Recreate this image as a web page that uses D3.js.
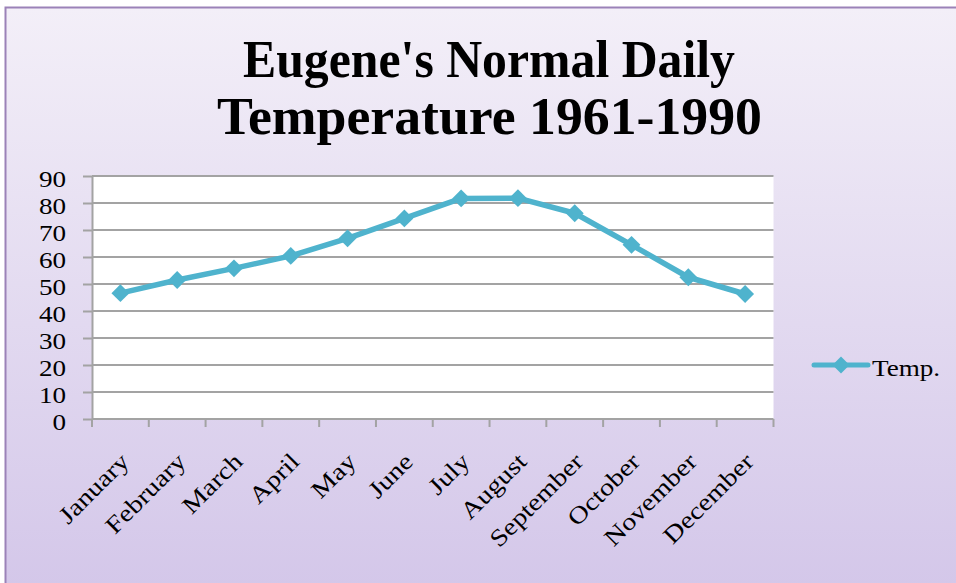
<!DOCTYPE html>
<html><head><meta charset="utf-8">
<script src="https://cdn.jsdelivr.net/npm/d3@7"></script>
<style>html,body{margin:0;padding:0;background:#fff;}svg{display:block;}</style>
</head><body>
<script>
const months = ["January","February","March","April","May","June","July","August","September","October","November","December"];
const temps = [46.6, 51.5, 55.8, 60.4, 66.9, 74.3, 81.7, 81.8, 76.2, 64.5, 52.5, 46.3];
const yTicks = [0,10,20,30,40,50,60,70,80,90];
const seriesName = "Temp.";
const titleLines = ["Eugene's Normal Daily", "Temperature 1961-1990"];

(function(){
const W = 956, H = 583;
const svg = d3.select("body").append("svg").attr("width", W).attr("height", H);
const defs = svg.append("defs");
const grad = defs.append("linearGradient").attr("id","bg").attr("x1",0).attr("y1",0).attr("x2",0).attr("y2",1);
grad.append("stop").attr("offset","0%").attr("stop-color","#f3eff8");
grad.append("stop").attr("offset","100%").attr("stop-color","#d3c6e9");
svg.append("rect").attr("x",0).attr("y",0).attr("width",W).attr("height",H).attr("fill","#fff");
svg.append("rect").attr("x",5.5).attr("y",7.5).attr("width",W+10).attr("height",H+10)
  .attr("fill","url(#bg)").attr("stroke","#9b82b8").attr("stroke-width",2);

const serif = "'Liberation Serif', 'Times New Roman', serif";
const sx = 1.18; // horizontal widening to approximate the original face
const tWidths = [492, 545];
const tCenters = [489, 489.5];
const tBase = [77, 134];
titleLines.forEach((t,i)=>{
  svg.append("text").attr("x",tCenters[i]).attr("y",tBase[i]).attr("text-anchor","middle")
    .attr("font-family",serif).attr("font-weight","bold").attr("font-size",53)
    .attr("textLength",tWidths[i]).attr("lengthAdjust","spacingAndGlyphs")
    .attr("fill","#000").text(t);
});

const pL = 92, pR = 773.5, pT = 176, pB = 419;
const x = d3.scaleBand().domain(months).range([pL, pR]);
const y = d3.scaleLinear().domain([0,90]).range([pB, pT]);

svg.append("rect").attr("x",pL).attr("y",pT).attr("width",pR-pL).attr("height",pB-pT).attr("fill","#fff");

svg.append("g").selectAll("line").data(yTicks.filter(d=>d>0)).join("line")
  .attr("x1",pL).attr("x2",pR).attr("y1",d=>y(d)).attr("y2",d=>y(d))
  .attr("stroke","#a3a3a3").attr("stroke-width",2);

const yAxis = svg.append("g").attr("transform",`translate(${pL},0)`)
  .call(d3.axisLeft(y).tickValues(yTicks).tickSize(9).tickSizeOuter(0).tickFormat(""));
yAxis.select(".domain").attr("stroke","#a3a3a3").attr("stroke-width",2);
yAxis.selectAll(".tick line").attr("stroke","#a3a3a3").attr("stroke-width",2);
svg.append("g").selectAll("text").data(yTicks).join("text")
  .attr("transform",d=>`translate(66,${y(d)+10.5}) scale(${sx},1)`)
  .attr("text-anchor","end").attr("font-family",serif).attr("font-size",23).attr("fill","#000")
  .text(d=>d);

const xTickPos = months.map(m=>x(m)).concat([pR]);
const xg = svg.append("g");
xg.append("line").attr("x1",pL).attr("x2",pR).attr("y1",pB).attr("y2",pB).attr("stroke","#a3a3a3").attr("stroke-width",2);
xg.selectAll("line.t").data(xTickPos).join("line").attr("class","t")
  .attr("x1",d=>d).attr("x2",d=>d).attr("y1",pB).attr("y2",pB+8)
  .attr("stroke","#a3a3a3").attr("stroke-width",2);
xg.selectAll("text").data(months).join("text")
  .attr("transform",d=>`translate(${x(d)+x.bandwidth()/2+10},${pB+44}) rotate(-45) scale(${sx},1)`)
  .attr("text-anchor","end").attr("font-family",serif).attr("font-size",24).attr("fill","#000")
  .text(d=>d);

const color = "#4fb3cd";
const line = d3.line().x((d,i)=>x(months[i])+x.bandwidth()/2).y(d=>y(d));
svg.append("path").datum(temps).attr("d",line).attr("fill","none").attr("stroke",color).attr("stroke-width",5.5).attr("stroke-linejoin","round");
const diamond = d3.symbol().type(d3.symbolSquare).size(160);
svg.append("g").selectAll("path").data(temps).join("path")
  .attr("d",diamond())
  .attr("transform",(d,i)=>`translate(${x(months[i])+x.bandwidth()/2},${y(d)}) rotate(45)`)
  .attr("fill",color);

const ly = 365;
svg.append("line").attr("x1",814).attr("x2",868).attr("y1",ly).attr("y2",ly).attr("stroke",color).attr("stroke-width",5).attr("stroke-linecap","round");
svg.append("path").attr("d",d3.symbol().type(d3.symbolSquare).size(144)()).attr("transform",`translate(841,${ly}) rotate(45)`).attr("fill",color);
svg.append("text").attr("transform",`translate(872,376) scale(${sx},1)`).attr("font-family",serif).attr("font-size",23).attr("fill","#000").text(seriesName);
})();
</script>
</body></html>
